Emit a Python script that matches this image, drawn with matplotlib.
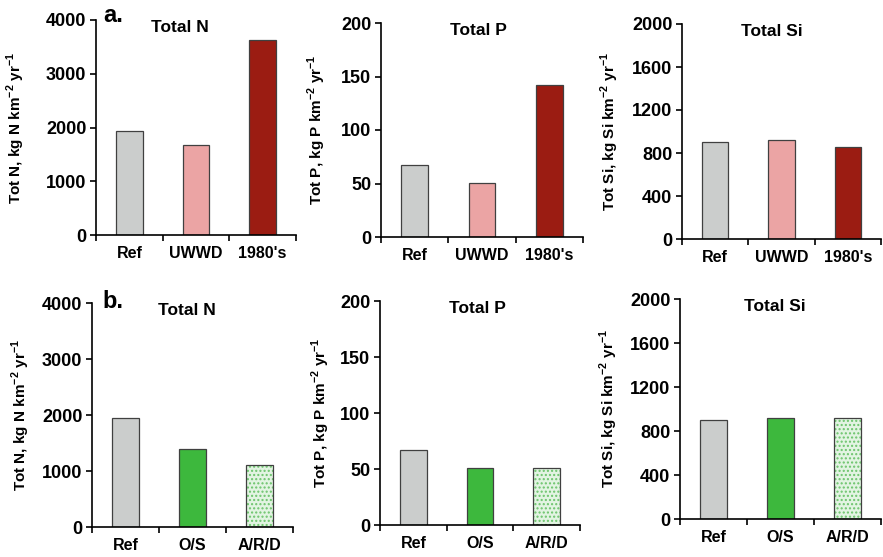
import matplotlib
matplotlib.use('Agg')
import matplotlib.pyplot as plt
import numpy as np

plt.rcParams['font.family'] = ['Liberation Sans', 'DejaVu Sans']
plt.rcParams['font.weight'] = 'bold'
plt.rcParams['mathtext.fontset'] = 'custom'
plt.rcParams['mathtext.bf'] = 'Liberation Sans:bold'
plt.rcParams['mathtext.rm'] = 'Liberation Sans:bold'

# data
cats_a = ['Ref', 'UWWD', "1980's"]
cats_b = ['Ref', 'O/S', 'A/R/D']

n_a = [1940, 1680, 3620]
p_a = [67, 50.5, 142]
si_a = [900, 920, 855]

n_b = [1940, 1390, 1110]
p_b = [67, 50.5, 50.5]
si_b = [900, 920, 920]

elements = ['N', 'P', 'Si']
ylims = [4000, 200, 2000]
ystep = [1000, 50, 400]

grey = '#cbcdcc'
pink = '#eba4a4'
darkred = '#9b1c12'
green = '#3db83d'
lightgreen = '#e2f4e2'

W, H = 883, 557
fig = plt.figure(figsize=(W / 100, H / 100), dpi=100)


def px_axes(x0, y0, x1, y1):
    return fig.add_axes([x0 / W, 1 - y1 / H, (x1 - x0) / W, (y1 - y0) / H])


# pixel boxes of each panel (left, top, right, bottom)
boxes = [
    [(96, 20, 296, 235), (381, 23, 583, 237), (682, 24, 881, 239)],
    [(92, 303, 293, 527), (380, 301, 580, 525), (680, 299, 881, 519)],
]
label_x = [[-0.345, -0.262, -0.308], [-0.30, -0.24, -0.30]]
title_x = [[0.42, 0.48, 0.45], [0.47, 0.485, 0.47]]

rows = [
    (cats_a, [n_a, p_a, si_a], [grey, pink, darkred], [None, None, None]),
    (cats_b, [n_b, p_b, si_b], [grey, green, lightgreen], [None, None, '....']),
]

for r, (cats, series, colors, hatches) in enumerate(rows):
    for c in range(3):
        ax = px_axes(*boxes[r][c])
        x = np.arange(len(cats))
        vals = series[c]
        for i in range(len(cats)):
            if hatches[i]:
                ax.bar(x[i], vals[i], width=0.4, color=colors[i],
                       edgecolor='#6cc46c', hatch=hatches[i], linewidth=0)
                ax.bar(x[i], vals[i], width=0.4, fill=False,
                       edgecolor='#404040', linewidth=0.9)
            else:
                ax.bar(x[i], vals[i], width=0.4, color=colors[i],
                       edgecolor='#404040', linewidth=0.9)
        ax.set_xlim(-0.5, 2.5)
        ax.set_ylim(0, ylims[c])
        ax.set_yticks(np.arange(0, ylims[c] + 1, ystep[c]))
        ax.set_xticks([-0.5, 0.5, 1.5, 2.5])
        ax.set_xticklabels([])
        ax.set_xticks(x, minor=True)
        ax.set_xticklabels(cats, minor=True, fontsize=11.5, fontweight='bold')
        ax.tick_params(axis='x', which='minor', length=0, pad=8)
        ax.tick_params(axis='x', which='major', length=4, width=1.2, direction='out')
        ax.tick_params(axis='y', length=4, width=1.2, direction='out', pad=3,
                       labelsize=13)
        for t in ax.get_yticklabels():
            t.set_fontweight('bold')
        for s in ['top', 'right']:
            ax.spines[s].set_visible(False)
        for s in ['left', 'bottom']:
            ax.spines[s].set_linewidth(1.2)
        el = elements[c]
        ax.set_ylabel('Tot %s, kg %s km$^{\\mathbf{-2}}$ yr$^{\\mathbf{-1}}$' % (el, el),
                      fontsize=11, fontweight='bold')
        ax.yaxis.set_label_coords(label_x[r][c], 0.5)
        ax.text(title_x[r][c], 0.965, 'Total ' + el, transform=ax.transAxes,
                ha='center', va='center', fontsize=12.5, fontweight='bold')

fig.text(113 / W, 1 - 15 / H, 'a.', ha='center', va='center', fontsize=17, fontweight='bold')
fig.text(113 / W, 1 - 302 / H, 'b.', ha='center', va='center', fontsize=17, fontweight='bold')

fig.savefig('out.png', dpi=100)
